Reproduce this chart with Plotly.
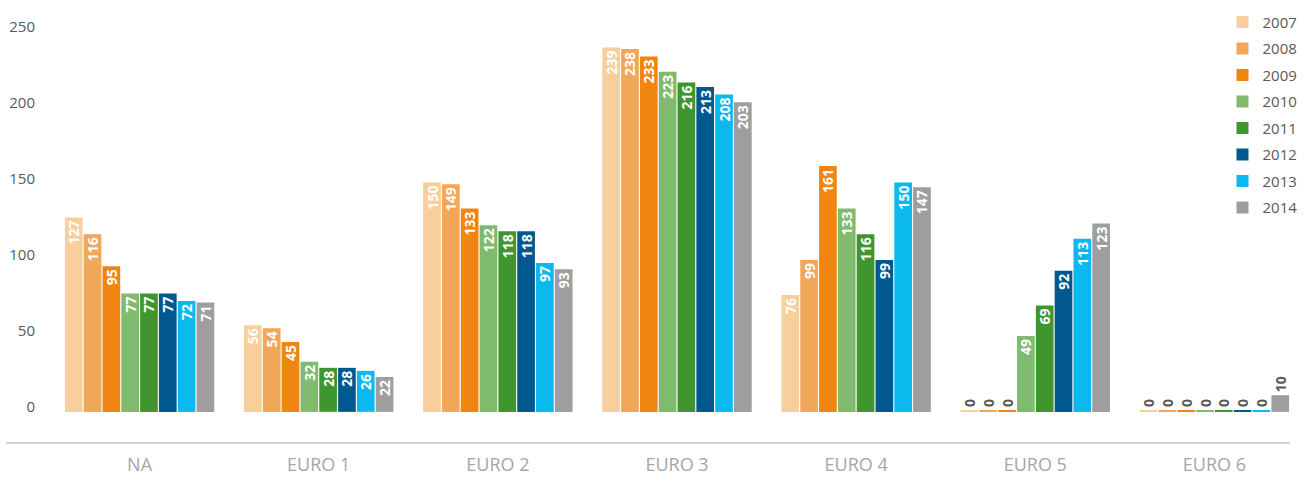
import plotly.graph_objects as go

categories = ["NA", "EURO 1", "EURO 2", "EURO 3", "EURO 4", "EURO 5", "EURO 6"]
years = ["2007", "2008", "2009", "2010", "2011", "2012", "2013", "2014"]
v2007 = [127, 56, 150, 239, 76, 0, 0]
v2008 = [116, 54, 149, 238, 99, 0, 0]
v2009 = [95, 45, 133, 233, 161, 0, 0]
v2010 = [77, 32, 122, 223, 133, 49, 0]
v2011 = [77, 28, 118, 216, 116, 69, 0]
v2012 = [77, 28, 118, 213, 99, 92, 0]
v2013 = [72, 26, 97, 208, 150, 113, 0]
v2014 = [71, 22, 93, 203, 147, 123, 10]
series = [v2007, v2008, v2009, v2010, v2011, v2012, v2013, v2014]
colors = ["#F7CE9C", "#F2A658", "#F08512", "#80BA6E", "#3F962E", "#00588F", "#0CB9EE", "#9E9E9E"]

BASE_OFF = 1.0  # thin baseline so zero bars remain visible

fig = go.Figure()
for name, vals, col in zip(years, series, colors):
    fig.add_trace(go.Bar(
        x=categories,
        y=[v + BASE_OFF for v in vals],
        base=-BASE_OFF,
        name=name,
        legendgroup=name,
        marker=dict(color=col, line=dict(width=0)),
        text=[str(v) for v in vals],
        texttemplate="%{text}",
        textposition=["inside" if v >= 15 else "outside" for v in vals],
        insidetextanchor="end",
        textangle=-90,
        constraintext="none",
        cliponaxis=False,
        insidetextfont=dict(family="Open Sans", size=14, color="white", weight="bold"),
        outsidetextfont=dict(family="Open Sans", size=14, color="#595959", weight="bold"),
        hoverinfo="skip",
    ))

fig.update_layout(
    width=1305, height=478,
    margin=dict(l=50, r=1, t=10, b=35),
    paper_bgcolor="white", plot_bgcolor="white",
    barmode="group", bargap=0.16, bargroupgap=0.06,
    showlegend=True,
    legend=dict(x=0.935, xanchor="left", y=1.01, yanchor="top",
                font=dict(family="Open Sans", size=15, color="#595959"),
                tracegroupgap=4, bgcolor="rgba(0,0,0,0)"),
    xaxis=dict(showgrid=False, showline=False, zeroline=False, ticks="",
               automargin=False,
               tickfont=dict(family="Open Sans", size=18, color="#A6A6A6"),
               ticklabelstandoff=9),
    yaxis=dict(range=[-21.5, 263.7], tickvals=[0, 50, 100, 150, 200, 250],
               automargin=False,
               showgrid=False, zeroline=False, showline=False, ticks="",
               tickfont=dict(family="Open Sans", size=15, color="#595959"),
               ticklabelstandoff=14, ticklabelshift=-4),
    shapes=[dict(type="line", xref="paper", yref="paper", x0=-0.0351, x1=0.9888,
                 y0=0, y1=0, line=dict(color="#C4C4C4", width=1.5))],
)

fig.write_html("out.html")
